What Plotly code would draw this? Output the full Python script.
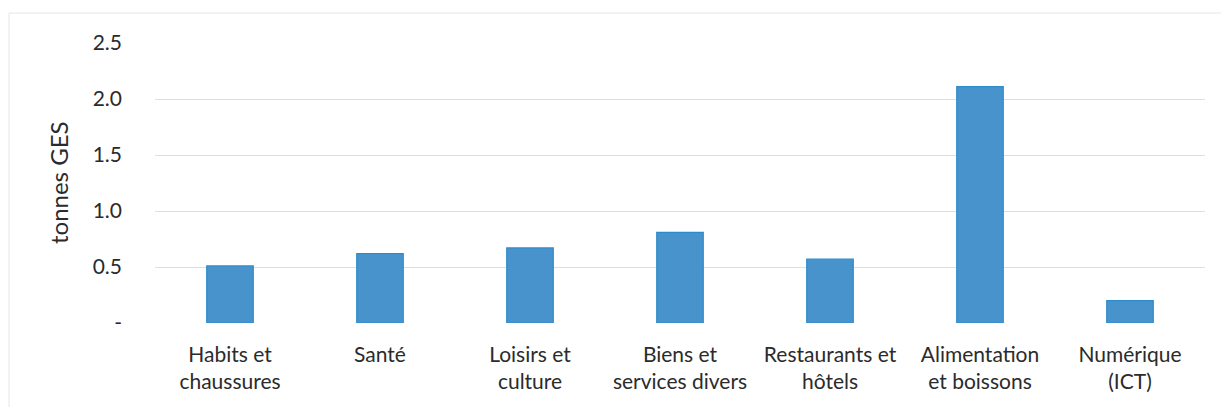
import plotly.graph_objects as go

categories = [
    "Habits et<br>chaussures",
    "Santé",
    "Loisirs et<br>culture",
    "Biens et<br>services divers",
    "Restaurants et<br>hôtels",
    "Alimentation<br>et boissons",
    "Numérique<br>(ICT)",
]
values = [0.51, 0.62, 0.67, 0.81, 0.57, 2.11, 0.20]

y_tickvals = [0, 0.5, 1.0, 1.5, 2.0, 2.5]
y_ticktext = ["-", "0.5", "1.0", "1.5", "2.0", "2.5"]

W, H = 1221, 407
L, R, T, B = 155, 16, 43, 84
pw, ph = W - L - R, H - T - B

font_family = "Lato, 'Open Sans', sans-serif"
text_color = "#2b2b2b"

fig = go.Figure(
    go.Bar(
        x=categories,
        y=values,
        marker=dict(color="#4893CC", line=dict(color="#2C8CCB", width=1.2)),
        width=0.31,
    )
)

fig.update_layout(
    width=W,
    height=H,
    margin=dict(l=L, r=R, t=T, b=B),
    paper_bgcolor="white",
    plot_bgcolor="white",
    showlegend=False,
    font=dict(family=font_family, size=20, color=text_color),
    xaxis=dict(
        showgrid=False,
        showline=False,
        ticks="",
        tickfont=dict(size=21, color=text_color),
        ticklabelstandoff=17,
    ),
    yaxis=dict(
        range=[0, 2.5],
        tickvals=y_tickvals,
        ticktext=y_ticktext,
        showgrid=True,
        gridcolor="#dedede",
        gridwidth=1,
        zeroline=False,
        showline=False,
        ticks="",
        ticklabelstandoff=32,
        tickfont=dict(size=21, color=text_color),
    ),
    annotations=[
        dict(
            text="tonnes GES",
            textangle=-90,
            xref="paper",
            yref="paper",
            x=(58 - L) / pw,
            y=0.5,
            xanchor="center",
            yanchor="middle",
            showarrow=False,
            font=dict(size=24, color=text_color, family=font_family),
        )
    ],
    shapes=[
        dict(
            type="rect",
            xref="paper",
            yref="paper",
            x0=(9 - L) / pw,
            x1=(1240 - L) / pw,
            y0=(T + ph - 420) / ph,
            y1=(T + ph - 13) / ph,
            line=dict(color="#e6e6e6", width=1),
            fillcolor="rgba(0,0,0,0)",
            layer="below",
        )
    ],
)

fig.write_html("out.html")
